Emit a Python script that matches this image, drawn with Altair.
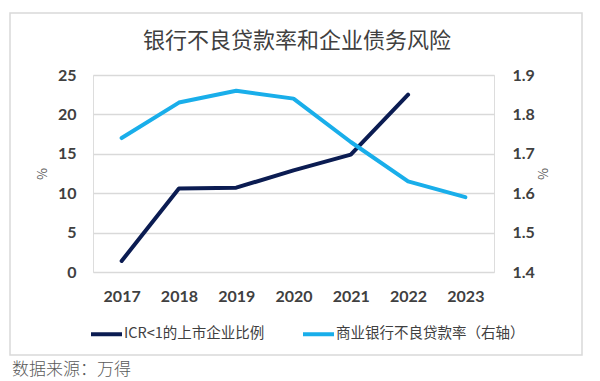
import altair as alt
import pandas as pd

years = ["2017", "2018", "2019", "2020", "2021", "2022", "2023"]
icr_years = ["2017", "2018", "2019", "2020", "2021", "2022"]
icr_values = [1.4, 10.6, 10.7, 12.9, 14.9, 22.5]
npl_values = [1.74, 1.83, 1.86, 1.84, 1.73, 1.63, 1.59]
series_names = ["ICR<1的上市企业比例", "商业银行不良贷款率（右轴）"]
series_colors = ["#0b1c52", "#19aeea"]
left_ticks = [0, 5, 10, 15, 20, 25]
right_ticks = [1.4, 1.5, 1.6, 1.7, 1.8, 1.9]
title_text = "银行不良贷款率和企业债务风险"
source_text = "数据来源：万得"

df_icr = pd.DataFrame({"year": icr_years, "value": icr_values, "series": series_names[0]})
df_npl = pd.DataFrame({"year": years, "value": npl_values, "series": series_names[1]})
one = pd.DataFrame({"k": [0]})

W, H = 401, 197
CJK = "Noto Sans CJK SC"
LAB = "Lato"

x_enc = alt.X("year:O", sort=years,
              scale=alt.Scale(type="point", domain=years, padding=0.5),
              axis=alt.Axis(title=None, labelAngle=0, labelFont=LAB, labelFontSize=16,
                            labelFontWeight="bold", labelColor="#404040", labelPadding=16,
                            ticks=False, domain=False, grid=False))

color_enc = alt.Color("series:N",
                      scale=alt.Scale(domain=series_names, range=series_colors),
                      legend=alt.Legend(title=None, orient="none", legendX=-4, legendY=241.5,
                                        direction="horizontal", symbolType="stroke",
                                        symbolSize=961, symbolStrokeWidth=4,
                                        labelFont=CJK, labelFontSize=14.5, labelColor="#404040",
                                        labelOffset=0, labelLimit=0, columnPadding=30))

icr_line = alt.Chart(df_icr).mark_line(strokeWidth=4, strokeCap="round", strokeJoin="round").encode(
    x=x_enc,
    y=alt.Y("value:Q", scale=alt.Scale(domain=[0, 25], nice=False, zero=False),
            axis=alt.Axis(values=left_ticks, title="%", titleFont=CJK, titleFontSize=13,
                          titleFontWeight="normal", titleColor="#595959", titlePadding=8,
                          labelFont=LAB, labelFontSize=16, labelFontWeight="bold",
                          labelColor="#404040", labelPadding=17, ticks=False, domain=False,
                          grid=True, gridColor="#d9d9d9", gridWidth=1.3)),
    color=color_enc,
)

npl_line = alt.Chart(df_npl).mark_line(strokeWidth=4, strokeCap="round", strokeJoin="round").encode(
    x=x_enc,
    y=alt.Y("value:Q", scale=alt.Scale(domain=[1.4, 1.9], nice=False, zero=False),
            axis=alt.Axis(values=right_ticks, format=".1f", orient="right", title="%",
                          titleFont=CJK, titleFontSize=13, titleFontWeight="normal",
                          titleColor="#595959", titleX=40, titleY=98.5,
                          labelFont=LAB, labelFontSize=16, labelFontWeight="bold",
                          labelColor="#404040", labelPadding=18, ticks=False, domain=False,
                          grid=False)),
    color=color_enc,
)

box = alt.Chart(one).mark_rect(fillOpacity=0, stroke="#d9d9d9", strokeWidth=1.5).encode(
    x=alt.value(-83), x2=alt.value(489), y=alt.value(-62), y2=alt.value(280)
)

title = alt.Chart(one).mark_text(font=CJK, fontSize=22, color="#404040", align="center",
                                 baseline="middle").encode(
    x=alt.value(204), y=alt.value(-34), text=alt.value(title_text)
)

source = alt.Chart(one).mark_text(font=CJK, fontSize=17, color="#595959", align="left",
                                  baseline="middle", fontWeight=300).encode(
    x=alt.value(-81), y=alt.value(294.5), text=alt.value(source_text)
)

chart = alt.layer(box, title, source, icr_line, npl_line).resolve_scale(
    y="independent"
).properties(
    width=W, height=H,
    padding={"left": 1, "top": 4, "right": 0, "bottom": 3},
).configure_view(stroke=None).configure(background="white")

chart.save("out.html", embed_options={"renderer": "svg", "actions": False})
